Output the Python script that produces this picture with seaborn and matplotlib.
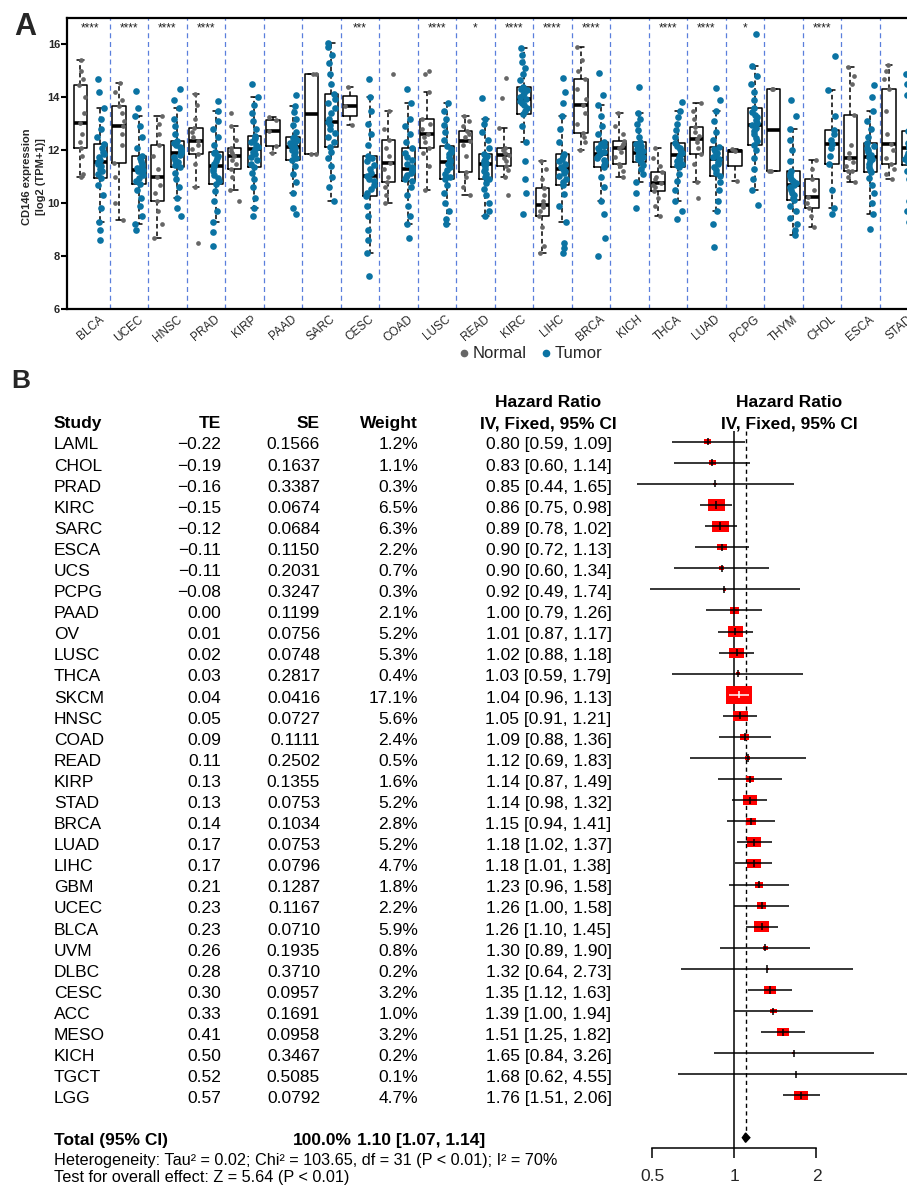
import numpy as np
import pandas as pd
import seaborn as sns
import matplotlib.pyplot as plt
import matplotlib.transforms as mtransforms
from matplotlib.path import Path
from matplotlib.lines import Line2D
from matplotlib.ticker import NullLocator

# ---------------- Panel A data ----------------
cancers = ['BLCA', 'UCEC', 'HNSC', 'PRAD', 'KIRP', 'PAAD', 'SARC', 'CESC', 'COAD', 'LUSC', 'READ',
           'KIRC', 'LIHC', 'BRCA', 'KICH', 'THCA', 'LUAD', 'PCPG', 'THYM', 'CHOL', 'ESCA', 'STAD']
stars = ['****', '****', '****', '****', '', '', '', '***', '', '****', '*',
         '****', '****', '****', '', '****', '****', '*', '', '****', '', '']

normal_values = [
    [11.0, 11.1, 11.8, 12.08, 12.3, 12.6, 13.04, 13.4, 14.0, 14.45, 14.7, 15.0, 15.41],
    [9.36, 10.0, 11.0, 11.53, 12.2, 12.6, 12.9, 13.1, 13.4, 13.67, 13.9, 14.2, 14.55],
    [8.67, 9.2, 9.7, 10.1, 10.4, 10.7, 11.0, 11.3, 11.8, 12.2, 12.6, 13.0, 13.3],
    [8.5, 10.6, 11.5, 11.87, 12.05, 12.2, 12.35, 12.5, 12.7, 12.86, 13.2, 13.7, 14.14],
    [10.1, 10.5, 11.0, 11.31, 11.5, 11.65, 11.78, 11.88, 11.97, 12.08, 12.4, 12.9, 13.4],
    [11.89, 12.16, 12.73, 13.13, 13.25],
    [11.85, 11.85, 14.87, 14.87],
    [12.95, 13.67, 14.4],
    [10.0, 10.3, 10.6, 10.8, 11.0, 11.3, 11.53, 11.8, 12.1, 12.39, 12.8, 13.5, 14.9],
    [10.5, 11.4, 11.9, 12.1, 12.3, 12.5, 12.63, 12.8, 13.0, 13.17, 14.2, 14.9, 15.0],
    [10.3, 10.6, 11.0, 11.19, 11.8, 12.2, 12.35, 12.5, 12.6, 12.73, 12.9, 13.1, 13.3],
    [10.3, 11.0, 11.25, 11.41, 11.6, 11.72, 11.81, 11.9, 12.0, 12.08, 12.83, 13.96, 14.74],
    [8.1, 8.4, 9.1, 9.52, 9.7, 9.85, 9.95, 10.1, 10.3, 10.59, 10.9, 11.3, 11.6],
    [12.0, 12.3, 12.5, 12.67, 13.0, 13.4, 13.7, 13.95, 14.3, 14.68, 15.0, 15.4, 15.9],
    [11.0, 11.2, 11.4, 11.5, 11.75, 11.95, 12.08, 12.15, 12.25, 12.35, 12.6, 12.9, 13.4],
    [9.52, 9.9, 10.2, 10.47, 10.6, 10.7, 10.78, 10.9, 11.0, 11.16, 11.4, 11.7, 12.1],
    [10.2, 10.8, 11.5, 11.87, 12.1, 12.3, 12.41, 12.55, 12.7, 12.89, 13.2, 13.5, 13.8],
    [10.84, 11.97, 12.03],
    [11.22, 11.22, 14.3, 14.3],
    [9.1, 9.5, 9.8, 10.0, 10.24, 10.5, 10.9, 11.3, 11.64],
    [10.8, 11.0, 11.2, 11.22, 11.4, 11.55, 11.69, 11.9, 12.2, 13.32, 14.5, 14.8, 15.14],
    [10.9, 11.1, 11.3, 11.47, 11.7, 12.0, 12.25, 12.6, 13.5, 14.3, 14.7, 15.0, 15.22],
]

tumor_values = [
    [8.6, 9.0, 9.3, 9.8, 10.3, 10.7, 10.97, 11.1, 11.2, 11.3, 11.4, 11.5, 11.57, 11.65, 11.75, 11.85, 11.95, 12.1, 12.23, 12.5, 12.8, 13.2, 13.6, 14.2, 14.68],
    [9.0, 9.2, 9.5, 9.9, 10.2, 10.5, 10.74, 10.85, 10.95, 11.05, 11.12, 11.2, 11.26, 11.33, 11.42, 11.5, 11.6, 11.7, 11.79, 12.1, 12.5, 12.9, 13.3, 13.6, 14.25],
    [9.5, 9.8, 10.2, 10.6, 10.9, 11.15, 11.35, 11.45, 11.55, 11.65, 11.75, 11.83, 11.91, 11.98, 12.05, 12.12, 12.2, 12.28, 12.35, 12.6, 12.9, 13.2, 13.6, 13.9, 14.3],
    [8.4, 8.9, 9.3, 9.7, 10.1, 10.45, 10.74, 10.85, 10.97, 11.08, 11.2, 11.3, 11.41, 11.5, 11.6, 11.7, 11.8, 11.88, 11.95, 12.2, 12.5, 12.8, 13.1, 13.5, 13.85],
    [9.5, 9.8, 10.2, 10.6, 10.9, 11.15, 11.37, 11.5, 11.62, 11.75, 11.85, 11.95, 12.04, 12.12, 12.2, 12.3, 12.4, 12.47, 12.54, 12.8, 13.1, 13.4, 13.7, 14.0, 14.5],
    [9.6, 9.8, 10.4, 10.8, 11.1, 11.4, 11.62, 11.72, 11.82, 11.92, 12.0, 12.07, 12.14, 12.2, 12.27, 12.33, 12.4, 12.46, 12.52, 12.7, 12.95, 13.2, 13.45, 13.67, 14.1],
    [10.1, 10.6, 11.0, 11.4, 11.7, 11.95, 12.13, 12.3, 12.5, 12.65, 12.8, 12.95, 13.07, 13.2, 13.4, 13.6, 13.8, 13.95, 14.11, 14.5, 14.9, 15.3, 15.6, 15.9, 16.05],
    [7.26, 8.1, 8.6, 9.0, 9.5, 9.9, 10.28, 10.4, 10.55, 10.7, 10.83, 10.93, 11.03, 11.15, 11.3, 11.45, 11.58, 11.7, 11.79, 12.2, 12.6, 13.0, 13.5, 14.0, 14.7],
    [8.7, 9.2, 9.5, 9.9, 10.3, 10.6, 10.82, 10.9, 11.0, 11.08, 11.15, 11.22, 11.28, 11.38, 11.5, 11.62, 11.75, 11.9, 12.08, 12.3, 12.6, 12.9, 13.2, 13.8, 14.3],
    [9.2, 9.4, 9.7, 10.0, 10.4, 10.7, 10.9, 11.0, 11.12, 11.25, 11.37, 11.47, 11.56, 11.65, 11.75, 11.85, 11.95, 12.05, 12.16, 12.4, 12.7, 12.95, 13.2, 13.5, 13.8],
    [9.5, 9.7, 10.0, 10.3, 10.55, 10.75, 10.9, 11.0, 11.1, 11.2, 11.3, 11.4, 11.47, 11.53, 11.6, 11.67, 11.73, 11.79, 11.85, 12.1, 12.4, 12.7, 13.0, 13.2, 13.96],
    [9.6, 10.4, 10.9, 11.6, 12.3, 12.9, 13.38, 13.5, 13.6, 13.7, 13.8, 13.88, 13.95, 14.02, 14.1, 14.18, 14.26, 14.33, 14.4, 14.65, 14.9, 15.1, 15.35, 15.6, 15.87],
    [8.1, 8.3, 8.5, 9.3, 9.9, 10.35, 10.69, 10.8, 10.92, 11.03, 11.13, 11.2, 11.28, 11.38, 11.48, 11.58, 11.68, 11.77, 11.85, 12.3, 12.8, 13.3, 13.8, 14.2, 14.72],
    [8.0, 8.7, 9.6, 10.1, 10.6, 11.0, 11.35, 11.45, 11.55, 11.63, 11.71, 11.78, 11.85, 11.93, 12.01, 12.09, 12.17, 12.25, 12.33, 12.6, 12.9, 13.3, 13.7, 14.1, 14.93],
    [9.8, 10.4, 10.8, 11.1, 11.3, 11.45, 11.56, 11.62, 11.68, 11.74, 11.8, 11.86, 11.91, 11.97, 12.03, 12.1, 12.17, 12.24, 12.31, 12.5, 12.75, 13.0, 13.2, 13.4, 14.4],
    [9.4, 9.7, 10.1, 10.5, 10.85, 11.1, 11.35, 11.43, 11.5, 11.58, 11.66, 11.74, 11.81, 11.88, 11.95, 12.03, 12.1, 12.18, 12.26, 12.5, 12.75, 13.0, 13.25, 13.5, 13.82],
    [8.33, 9.2, 9.7, 10.1, 10.5, 10.8, 11.03, 11.15, 11.27, 11.38, 11.48, 11.57, 11.66, 11.74, 11.82, 11.9, 11.98, 12.06, 12.14, 12.4, 12.7, 13.1, 13.5, 13.9, 14.36],
    [9.92, 10.5, 10.9, 11.3, 11.7, 12.0, 12.2, 12.35, 12.48, 12.6, 12.72, 12.83, 12.94, 13.04, 13.14, 13.24, 13.34, 13.46, 13.58, 13.9, 14.2, 14.5, 14.8, 15.2, 16.38],
    [8.8, 9.0, 9.2, 9.45, 9.7, 9.9, 10.11, 10.2, 10.3, 10.4, 10.5, 10.6, 10.68, 10.76, 10.85, 10.93, 11.02, 11.12, 11.22, 11.6, 12.0, 12.4, 12.8, 13.3, 13.9],
    [9.58, 9.8, 10.5, 11.5, 11.8, 12.1, 12.25, 12.4, 12.6, 12.75, 13.3, 14.26, 15.58],
    [9.04, 9.6, 10.0, 10.4, 10.7, 10.95, 11.16, 11.27, 11.38, 11.48, 11.58, 11.67, 11.76, 11.84, 11.92, 12.0, 12.08, 12.17, 12.26, 12.5, 12.8, 13.1, 13.5, 14.0, 14.45],
    [9.3, 9.7, 10.1, 10.5, 10.9, 11.2, 11.43, 11.55, 11.67, 11.78, 11.88, 11.98, 12.08, 12.18, 12.28, 12.38, 12.49, 12.61, 12.73, 13.0, 13.3, 13.7, 14.1, 14.5, 14.9],
]

# ---------------- Panel B data ----------------
studies = ['LAML', 'CHOL', 'PRAD', 'KIRC', 'SARC', 'ESCA', 'UCS', 'PCPG', 'PAAD', 'OV', 'LUSC',
           'THCA', 'SKCM', 'HNSC', 'COAD', 'READ', 'KIRP', 'STAD', 'BRCA', 'LUAD', 'LIHC', 'GBM',
           'UCEC', 'BLCA', 'UVM', 'DLBC', 'CESC', 'ACC', 'MESO', 'KICH', 'TGCT', 'LGG']
te = [-0.22, -0.19, -0.16, -0.15, -0.12, -0.11, -0.11, -0.08, 0.00, 0.01, 0.02, 0.03, 0.04, 0.05,
      0.09, 0.11, 0.13, 0.13, 0.14, 0.17, 0.17, 0.21, 0.23, 0.23, 0.26, 0.28, 0.30, 0.33, 0.41,
      0.50, 0.52, 0.57]
se = [0.1566, 0.1637, 0.3387, 0.0674, 0.0684, 0.1150, 0.2031, 0.3247, 0.1199, 0.0756, 0.0748,
      0.2817, 0.0416, 0.0727, 0.1111, 0.2502, 0.1355, 0.0753, 0.1034, 0.0753, 0.0796, 0.1287,
      0.1167, 0.0710, 0.1935, 0.3710, 0.0957, 0.1691, 0.0958, 0.3467, 0.5085, 0.0792]
weight = [1.2, 1.1, 0.3, 6.5, 6.3, 2.2, 0.7, 0.3, 2.1, 5.2, 5.3, 0.4, 17.1, 5.6, 2.4, 0.5, 1.6,
          5.2, 2.8, 5.2, 4.7, 1.8, 2.2, 5.9, 0.8, 0.2, 3.2, 1.0, 3.2, 0.2, 0.1, 4.7]
hr = [0.80, 0.83, 0.85, 0.86, 0.89, 0.90, 0.90, 0.92, 1.00, 1.01, 1.02, 1.03, 1.04, 1.05, 1.09,
      1.12, 1.14, 1.14, 1.15, 1.18, 1.18, 1.23, 1.26, 1.26, 1.30, 1.32, 1.35, 1.39, 1.51, 1.65,
      1.68, 1.76]
ci_low = [0.59, 0.60, 0.44, 0.75, 0.78, 0.72, 0.60, 0.49, 0.79, 0.87, 0.88, 0.59, 0.96, 0.91,
          0.88, 0.69, 0.87, 0.98, 0.94, 1.02, 1.01, 0.96, 1.00, 1.10, 0.89, 0.64, 1.12, 1.00,
          1.25, 0.84, 0.62, 1.51]
ci_high = [1.09, 1.14, 1.65, 0.98, 1.02, 1.13, 1.34, 1.74, 1.26, 1.17, 1.18, 1.79, 1.13, 1.21,
           1.36, 1.83, 1.49, 1.32, 1.41, 1.37, 1.38, 1.58, 1.58, 1.45, 1.90, 2.73, 1.63, 1.94,
           1.82, 3.26, 4.55, 2.06]
total_hr, total_low, total_high = 1.10, 1.07, 1.14
heterogeneity = 'Heterogeneity: Tau² = 0.02; Chi² = 103.65, df = 31 (P < 0.01); I² = 70%'
overall_effect = 'Test for overall effect: Z = 5.64 (P < 0.01)'

gray = '#666666'
blue = '#0b73a3'

sns.set_theme(style='white')
plt.rcParams['font.family'] = ['Liberation Sans', 'DejaVu Sans']

W, H = 907, 1186
fig = plt.figure(figsize=(W / 100, H / 100), dpi=100)


def fx(px):
    return px / W


def fy(py):
    return 1 - py / H


# ---------------- Panel A ----------------
records = []
for i, c in enumerate(cancers):
    for v in normal_values[i]:
        records.append((c, 'Normal', v, i - 0.26))
    for v in tumor_values[i]:
        records.append((c, 'Tumor', v, i + 0.26))
expr = pd.DataFrame(records, columns=['cancer', 'group', 'value', 'xpos'])

axA = fig.add_axes([fx(67), fy(309), (22.5 + 0.61) * 38.5 / W, 291 / H])
np.random.seed(0)
sns.stripplot(data=expr[expr['group'] == 'Normal'], x='xpos', y='value', orient='x',
              native_scale=True, color=gray, jitter=0.13, size=3.4, linewidth=0, ax=axA)
sns.stripplot(data=expr[expr['group'] == 'Tumor'], x='xpos', y='value', orient='x',
              native_scale=True, color=blue, jitter=0.1, size=4.8, linewidth=0, ax=axA)
sns.boxplot(data=expr, x='xpos', y='value', orient='x', native_scale=True, fill=False,
            color='black', linecolor='black', width=0.71, showfliers=False, linewidth=1.1,
            medianprops=dict(linewidth=2.6), whiskerprops=dict(linestyle=(0, (3, 2))), ax=axA)

for k in range(len(cancers)):
    axA.axvline(k + 0.5, color='#5a7fdc', lw=0.9, ls=(0, (4, 3)), zorder=0)
for i, s in enumerate(stars):
    axA.text(i, 16.6, s, ha='center', va='center', fontsize=8.5, color='#222222')

axA.set_xlim(-0.61, 22.5)
axA.set_ylim(6, 17)
axA.set_xticks(range(len(cancers)))
axA.set_xticklabels(cancers, rotation=40, ha='center', va='top', fontsize=8.5)
axA.set_yticks([6, 8, 10, 12, 14, 16])
axA.set_yticklabels(['6', '8', '10', '12', '14', '16'], fontweight='bold', fontsize=8)
axA.tick_params(axis='x', length=0, pad=3)
axA.tick_params(axis='y', length=4, width=1.5, color='black', pad=1, left=True)
axA.set_xlabel('')
axA.set_ylabel('')
for side in ['left', 'top', 'bottom']:
    axA.spines[side].set_color('black')
    axA.spines[side].set_linewidth(1.6)
axA.spines['right'].set_visible(False)

fig.text(fx(34), fy(177), 'CD146 expression\n[log2 (TPM+1)]', rotation=90, ha='center',
         va='center', fontsize=8, fontweight='bold', linespacing=1.45)
fig.text(fx(25), fy(27), 'A', ha='center', va='center', fontsize=22, fontweight='bold')

handles = [Line2D([], [], marker='o', ls='', color=gray, markersize=4.5, label='Normal'),
           Line2D([], [], marker='o', ls='', color=blue, markersize=4.5, label='Tumor')]
fig.legend(handles=handles, loc='center', bbox_to_anchor=(fx(530), fy(354)), ncol=2,
           frameon=False, fontsize=12, handletextpad=0.1, columnspacing=0.8, handlelength=0.8)

# ---------------- Panel B ----------------
forest = pd.DataFrame({'study': studies, 'te': te, 'se': se, 'weight': weight, 'hr': hr,
                       'low': ci_low, 'high': ci_high})
forest['row'] = np.arange(len(forest))
total_row = len(forest) + 1

axF = fig.add_axes([fx(625), fy(1148), (W - 625) / W, (1148 - 431) / H])
axF.set_xscale('log')

rect = Path([(-0.725, -0.5), (0.725, -0.5), (0.725, 0.5), (-0.725, 0.5), (-0.725, -0.5)])
k_area = 21.2
sns.scatterplot(data=forest, x='hr', y='row', size='weight',
                sizes=(k_area * min(weight), k_area * max(weight)),
                size_norm=(min(weight), max(weight)), marker=rect, color='red',
                linewidth=0, legend=False, ax=axF, zorder=3)

half = 6.4 * np.sqrt(forest['weight']) / 2 / 273
inside = (np.log10(forest['low']) >= np.log10(forest['hr']) - half) & \
         (np.log10(forest['high']) <= np.log10(forest['hr']) + half)
line_colors = ['white' if f else 'black' for f in inside]
axF.hlines(forest['row'], forest['low'], forest['high'], colors=line_colors, lw=1.1, zorder=4)
axF.vlines(forest['hr'], forest['row'] - 0.17, forest['row'] + 0.17, colors=line_colors,
           lw=1.1, zorder=4)

row_top, row_bottom = -0.507, 33.49
axF.axvline(1, color='black', lw=1.1, zorder=2)
axF.vlines(total_hr, row_top, total_row - 0.3, colors='black', linestyles=(0, (3, 2.5)), lw=1.0,
           zorder=2)
axF.fill([total_low, total_hr, total_high, total_hr],
         [total_row, total_row - 0.22, total_row, total_row + 0.22], color='black', zorder=4)

axF.set_xlim(0.3977, 4.292)
axF.set_ylim(row_bottom, row_top)
axF.set_xticks([0.5, 1, 2])
axF.set_xticklabels(['0.5', '1', '2'])
axF.xaxis.set_minor_locator(NullLocator())
axF.set_yticks([])
axF.tick_params(axis='x', direction='out', length=7, width=1.1, color='black', pad=8,
                labelsize=12.5, bottom=True)
axF.set_xlabel('')
axF.set_ylabel('')
for side in ['top', 'right', 'left']:
    axF.spines[side].set_visible(False)
axF.spines['bottom'].set_bounds(0.5, 2)
axF.spines['bottom'].set_color('black')
axF.spines['bottom'].set_linewidth(1.1)
axF.patch.set_alpha(0)

trans = mtransforms.blended_transform_factory(fig.transFigure, axF.transData)
fs = 12.5
off = 0.37


def put(px, row, s, ha='left', bold=False, size=fs, offset=off):
    axF.text(fx(px), row + offset, s, transform=trans, ha=ha, va='baseline', fontsize=size,
             fontweight='bold' if bold else 'normal', color='black')


put(548.5, -2, 'Hazard Ratio', ha='center', bold=True)
put(789.3, -2, 'Hazard Ratio', ha='center', bold=True)
put(54, -1, 'Study', bold=True)
put(221, -1, 'TE', ha='right', bold=True)
put(320, -1, 'SE', ha='right', bold=True)
put(418, -1, 'Weight', ha='right', bold=True)
put(548.5, -1, 'IV, Fixed, 95% CI', ha='center', bold=True)
put(789.3, -1, 'IV, Fixed, 95% CI', ha='center', bold=True)

for _, r in forest.iterrows():
    put(54, r['row'], r['study'])
    put(221, r['row'], f"{r['te']:.2f}".replace('-', '\u2212'), ha='right')
    put(320, r['row'], f"{r['se']:.4f}", ha='right')
    put(418, r['row'], f"{r['weight']:.1f}%", ha='right')
    put(548.5, r['row'], f"{r['hr']:.2f} [{r['low']:.2f}, {r['high']:.2f}]", ha='center')

put(54, total_row, 'Total (95% CI)', bold=True)
put(293, total_row, '100.0%', bold=True)
put(357, total_row, f'{total_hr:.2f} [{total_low:.2f}, {total_high:.2f}]', bold=True)
put(54, total_row + 1, heterogeneity, size=11.7, offset=0.28)
put(54, total_row + 2, overall_effect, size=11.7, offset=0.08)

fig.text(fx(21), fy(381), 'B', ha='center', va='center', fontsize=19, fontweight='bold')

fig.savefig('out.png', dpi=100)
